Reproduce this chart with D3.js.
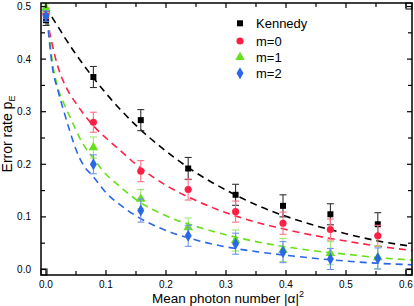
<!DOCTYPE html>
<html lang="en">
<head>
    <meta charset="UTF-8">
    <title>Error rate vs mean photon number</title>
    <script src="https://d3js.org/d3.v7.min.js"></script>
    <style>
        body { margin: 0; background: #fff; }
        svg { display: block; font-family: "Liberation Sans", Arial, sans-serif; }
    </style>
</head>
<body>
    <svg id="chart" width="414" height="306"></svg>

    <script>
        // measured points
        const photonX = [0, 0.079, 0.158, 0.237, 0.316, 0.395, 0.474, 0.553];
        const kennedyY = [0.474, 0.366, 0.284, 0.192, 0.142, 0.121, 0.105, 0.086];
        const kennedyErr = [0.01, 0.02, 0.02, 0.021, 0.02, 0.021, 0.02, 0.022];
        const m0Y = [0.487, 0.280, 0.187, 0.152, 0.110, 0.088, 0.076, 0.064];
        const m0Err = [0.01, 0.019, 0.02, 0.02, 0.02, 0.021, 0.02, 0.02];
        const m1Y = [0.497, 0.232, 0.134, 0.080, 0.055, 0.037, 0.031, 0.023];
        const m1Err = [0.008, 0.02, 0.018, 0.018, 0.02, 0.022, 0.022, 0.022];
        const m2Y = [0.482, 0.200, 0.112, 0.064, 0.049, 0.033, 0.020, 0.021];
        const m2Err = [0.01, 0.018, 0.022, 0.02, 0.02, 0.02, 0.02, 0.02];

        // theory curves (dashed)
        const fitX = [0, 0.003, 0.006, 0.01, 0.02, 0.03, 0.04, 0.05, 0.06, 0.08, 0.1, 0.12, 0.15, 0.2, 0.25, 0.3, 0.35, 0.4, 0.45, 0.5, 0.55, 0.61];
        const kennedyFit = [0.5, 0.494, 0.488, 0.480, 0.462, 0.443, 0.426, 0.409, 0.393, 0.363, 0.335, 0.309, 0.274, 0.225, 0.184, 0.151, 0.123, 0.101, 0.083, 0.068, 0.055, 0.044];
        const m0Fit = [0.5, 0.475, 0.452, 0.43, 0.385, 0.355, 0.333, 0.316, 0.300, 0.272, 0.250, 0.230, 0.200, 0.160, 0.131, 0.108, 0.090, 0.076, 0.064, 0.054, 0.045, 0.036];
        const m1Fit = [0.5, 0.47, 0.44, 0.40, 0.345, 0.315, 0.29, 0.265, 0.242, 0.21, 0.181, 0.161, 0.133, 0.102, 0.082, 0.066, 0.053, 0.043, 0.035, 0.029, 0.023, 0.018];
        const m2Fit = [0.5, 0.465, 0.43, 0.39, 0.34, 0.30, 0.262, 0.228, 0.203, 0.175, 0.146, 0.126, 0.102, 0.074, 0.056, 0.043, 0.034, 0.027, 0.021, 0.016, 0.012, 0.009];

        const seriesNames = ["Kennedy", "m=0", "m=1", "m=2"];
        const xTicks = [0, 0.1, 0.2, 0.3, 0.4, 0.5, 0.6];
        const yTicks = [0, 0.1, 0.2, 0.3, 0.4, 0.5];

        const series = [
            { name: seriesNames[0], y: kennedyY, err: kennedyErr, fit: kennedyFit, color: "#000000", bar: "#333333", sym: d3.symbolSquare, size: 36 },
            { name: seriesNames[1], y: m0Y, err: m0Err, fit: m0Fit, color: "#ff1f45", bar: "#ff6f86", sym: d3.symbolCircle, size: 40 },
            { name: seriesNames[2], y: m1Y, err: m1Err, fit: m1Fit, color: "#66e01c", bar: "#9bea6e", sym: d3.symbolTriangle, size: 40 },
            { name: seriesNames[3], y: m2Y, err: m2Err, fit: m2Fit, color: "#2a66e8", bar: "#6f95ee", sym: d3.symbolDiamond, size: 42 }
        ];

        const svg = d3.select("#chart");
        const plotLeft = 41, plotRight = 412, plotTop = 3, plotBottom = 275;

        const x = d3.scaleLinear().domain([-0.0083, 0.61]).range([plotLeft, plotRight]);
        const y = d3.scaleLinear().domain([-0.0105, 0.5067]).range([plotBottom, plotTop]);

        svg.append("clipPath").attr("id", "plot-clip")
            .append("rect")
            .attr("x", plotLeft).attr("y", plotTop)
            .attr("width", plotRight - plotLeft).attr("height", plotBottom - plotTop);

        // dashed fit lines
        const line = d3.line()
            .x(d => x(d[0]))
            .y(d => y(d[1]))
            .curve(d3.curveMonotoneX);

        const lines = svg.append("g").attr("clip-path", "url(#plot-clip)");
        series.forEach(s => {
            lines.append("path")
                .datum(fitX.map((v, i) => [v, s.fit[i]]))
                .attr("d", line)
                .attr("fill", "none")
                .attr("stroke", s.color)
                .attr("stroke-width", 1.6)
                .attr("stroke-dasharray", "7,5");
        });

        // error bars and markers
        series.forEach(s => {
            const g = svg.append("g");
            const pts = photonX.map((v, i) => ({ x: v, y: s.y[i], e: s.err[i] }));

            g.selectAll("line.bar")
                .data(pts).enter().append("line")
                .attr("x1", d => x(d.x)).attr("x2", d => x(d.x))
                .attr("y1", d => y(d.y - d.e)).attr("y2", d => y(d.y + d.e))
                .attr("stroke", s.bar).attr("stroke-width", 1.1);

            [-1, 1].forEach(sign => {
                g.selectAll("line.cap" + sign)
                    .data(pts).enter().append("line")
                    .attr("x1", d => x(d.x) - 3.5).attr("x2", d => x(d.x) + 3.5)
                    .attr("y1", d => y(d.y + sign * d.e)).attr("y2", d => y(d.y + sign * d.e))
                    .attr("stroke", s.bar).attr("stroke-width", 1.1);
            });

            g.selectAll("path.mark")
                .data(pts).enter().append("path")
                .attr("transform", d => `translate(${x(d.x)},${y(d.y)})`)
                .attr("d", d3.symbol().type(s.sym).size(s.size))
                .attr("fill", s.color);
        });

        // axes frame with inward ticks
        const minor = d3.range(0, 0.6001, 0.05);
        const minorY = d3.range(0, 0.5001, 0.05);

        const frame = svg.append("g").attr("stroke", "#000");
        frame.append("rect")
            .attr("x", plotLeft).attr("y", plotTop)
            .attr("width", plotRight - plotLeft).attr("height", plotBottom - plotTop)
            .attr("fill", "none").attr("stroke-width", 1.5);

        minor.forEach((v, i) => {
            const len = i % 2 === 0 ? 5 : 4;
            frame.append("line").attr("x1", x(v)).attr("x2", x(v))
                .attr("y1", plotBottom).attr("y2", plotBottom - len).attr("stroke-width", 1.2);
            frame.append("line").attr("x1", x(v)).attr("x2", x(v))
                .attr("y1", plotTop).attr("y2", plotTop + len).attr("stroke-width", 1.2);
        });
        minorY.forEach((v, i) => {
            const len = i % 2 === 0 ? 5 : 4;
            frame.append("line").attr("x1", plotLeft).attr("x2", plotLeft + len)
                .attr("y1", y(v)).attr("y2", y(v)).attr("stroke-width", 1.2);
            frame.append("line").attr("x1", plotRight).attr("x2", plotRight - len)
                .attr("y1", y(v)).attr("y2", y(v)).attr("stroke-width", 1.2);
        });

        // little corner boxes origin leaves behind
        [[plotLeft, plotBottom - 6], [plotRight - 6, plotTop], [plotRight - 6, plotBottom - 6]].forEach(c => {
            frame.append("rect").attr("x", c[0]).attr("y", c[1])
                .attr("width", 6).attr("height", 6)
                .attr("fill", "none").attr("stroke-width", 1);
        });

        // tick labels
        svg.append("g").selectAll("text")
            .data(xTicks).enter().append("text")
            .attr("x", d => x(d)).attr("y", 288)
            .attr("text-anchor", "middle")
            .attr("font-size", 10)
            .text(d => d.toFixed(1));

        svg.append("g").selectAll("text")
            .data(yTicks).enter().append("text")
            .attr("x", 31).attr("y", d => y(d) + 3.6)
            .attr("text-anchor", "end")
            .attr("font-size", 10)
            .text(d => d.toFixed(1));

        // axis titles
        const xt = svg.append("text")
            .attr("x", 228).attr("y", 302.5)
            .attr("text-anchor", "middle")
            .attr("font-size", 13.5)
            .text("Mean photon number |α|");
        xt.append("tspan").attr("font-size", 9).attr("dy", -6).text("2");

        const yt = svg.append("text")
            .attr("transform", "translate(12,134) rotate(-90)")
            .attr("text-anchor", "middle")
            .attr("font-size", 14)
            .text("Error rate p");
        yt.append("tspan").attr("font-size", 9).attr("dy", 3).text("E");

        // legend
        const legend = svg.append("g");
        const legendY = [23.3, 41, 57.3, 73.3];
        series.forEach((s, i) => {
            legend.append("path")
                .attr("transform", `translate(240,${legendY[i]})`)
                .attr("d", d3.symbol().type(s.sym).size(s.size))
                .attr("fill", s.color);
            legend.append("text")
                .attr("x", 256).attr("y", legendY[i] + 4.5)
                .attr("font-size", 13)
                .text(s.name);
        });
    </script>
</body>
</html>
